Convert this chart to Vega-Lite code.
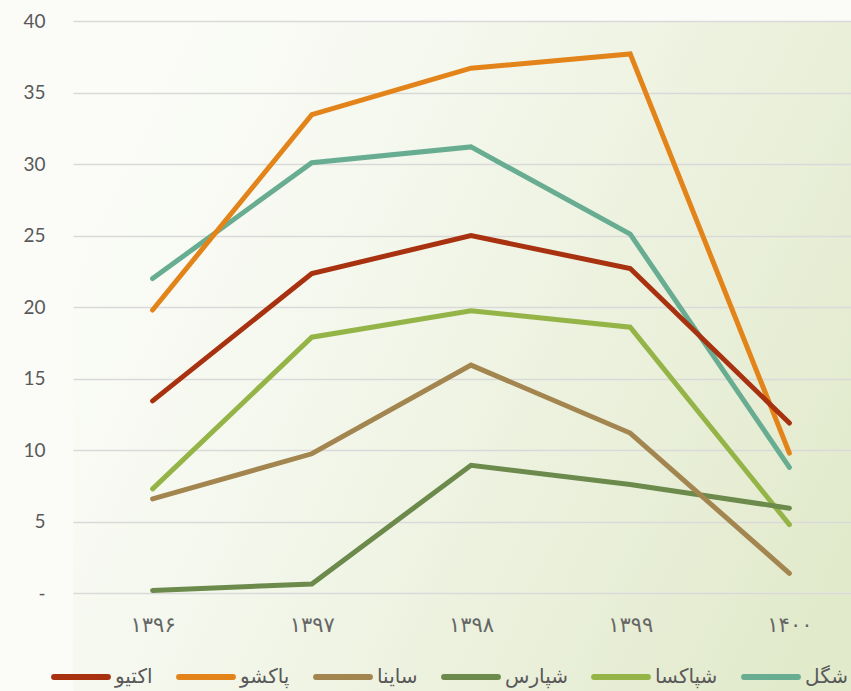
{
  "$schema": "https://vega.github.io/schema/vega-lite/v6.json",
  "autosize": "none",
  "padding": {"left": 73, "top": 21, "right": 0, "bottom": 0},
  "width": 796,
  "height": 670,
  "background": "#FBFCF8",
  "config": {
    "view": {
      "stroke": null,
      "fill": {
        "gradient": "linear",
        "x1": 0, "y1": 0.3, "x2": 1, "y2": 0.7,
        "stops": [
          {"offset": 0, "color": "#FBFCF8"},
          {"offset": 0.3, "color": "#F5F8EE"},
          {"offset": 1, "color": "#E2EACC"}
        ]
      }
    }
  },
  "data": {
    "values": [
      {"s": "شگل", "year": "۱۳۹۶", "v": 22.0},
      {"s": "شگل", "year": "۱۳۹۷", "v": 30.1},
      {"s": "شگل", "year": "۱۳۹۸", "v": 31.2},
      {"s": "شگل", "year": "۱۳۹۹", "v": 25.1},
      {"s": "شگل", "year": "۱۴۰۰", "v": 8.8},
      {"s": "شپاکسا", "year": "۱۳۹۶", "v": 7.3},
      {"s": "شپاکسا", "year": "۱۳۹۷", "v": 17.9},
      {"s": "شپاکسا", "year": "۱۳۹۸", "v": 19.75},
      {"s": "شپاکسا", "year": "۱۳۹۹", "v": 18.6},
      {"s": "شپاکسا", "year": "۱۴۰۰", "v": 4.8},
      {"s": "شپارس", "year": "۱۳۹۶", "v": 0.2},
      {"s": "شپارس", "year": "۱۳۹۷", "v": 0.65},
      {"s": "شپارس", "year": "۱۳۹۸", "v": 8.95},
      {"s": "شپارس", "year": "۱۳۹۹", "v": 7.6},
      {"s": "شپارس", "year": "۱۴۰۰", "v": 5.95},
      {"s": "ساینا", "year": "۱۳۹۶", "v": 6.6},
      {"s": "ساینا", "year": "۱۳۹۷", "v": 9.75},
      {"s": "ساینا", "year": "۱۳۹۸", "v": 15.95},
      {"s": "ساینا", "year": "۱۳۹۹", "v": 11.2},
      {"s": "ساینا", "year": "۱۴۰۰", "v": 1.4},
      {"s": "پاکشو", "year": "۱۳۹۶", "v": 19.8},
      {"s": "پاکشو", "year": "۱۳۹۷", "v": 33.45},
      {"s": "پاکشو", "year": "۱۳۹۸", "v": 36.7},
      {"s": "پاکشو", "year": "۱۳۹۹", "v": 37.7},
      {"s": "پاکشو", "year": "۱۴۰۰", "v": 9.8},
      {"s": "اکتیو", "year": "۱۳۹۶", "v": 13.45},
      {"s": "اکتیو", "year": "۱۳۹۷", "v": 22.35},
      {"s": "اکتیو", "year": "۱۳۹۸", "v": 25.0},
      {"s": "اکتیو", "year": "۱۳۹۹", "v": 22.7},
      {"s": "اکتیو", "year": "۱۴۰۰", "v": 11.9}
    ]
  },
  "mark": {"type": "line", "strokeWidth": 5, "strokeCap": "round", "strokeJoin": "miter"},
  "encoding": {
    "x": {
      "field": "year",
      "type": "ordinal",
      "sort": ["۱۳۹۶", "۱۳۹۷", "۱۳۹۸", "۱۳۹۹", "۱۴۰۰"],
      "scale": {"type": "point", "padding": 0.5},
      "axis": {
        "title": null,
        "domain": false,
        "ticks": false,
        "grid": false,
        "labelAngle": 0,
        "offset": -77,
        "labelPadding": 0,
        "labelFont": "DejaVu Sans",
        "labelFontSize": 21,
        "labelFontWeight": "normal",
        "labelColor": "#666666"
      }
    },
    "y": {
      "field": "v",
      "type": "quantitative",
      "scale": {"domain": [-6.83, 40], "nice": false, "zero": false},
      "axis": {
        "title": null,
        "values": [0, 5, 10, 15, 20, 25, 30, 35, 40],
        "domain": false,
        "ticks": false,
        "labelPadding": 28,
        "labelFont": "Lato",
        "labelFontSize": 19,
        "labelColor": "#595959",
        "labelExpr": "datum.value == 0 ? '-' : datum.label",
        "gridColor": "#D9D9D9",
        "gridWidth": 1.5
      }
    },
    "color": {
      "field": "s",
      "type": "nominal",
      "scale": {
        "domain": ["اکتیو", "پاکشو", "ساینا", "شپارس", "شپاکسا", "شگل"],
        "range": ["#A8320F", "#E3841A", "#A3854F", "#6C8A4C", "#94B447", "#68AD92"]
      },
      "legend": {
        "title": null,
        "orient": "none",
        "direction": "horizontal",
        "legendX": -22,
        "legendY": 626,
        "symbolType": "stroke",
        "symbolSize": 2900,
        "symbolStrokeWidth": 6,
        "labelFont": "DejaVu Sans",
        "labelFontSize": 20,
        "labelBaseline": "middle",
        "labelColor": "#595959",
        "labelOffset": 4,
        "columnPadding": 14,
        "encode": {"symbols": {"update": {"strokeCap": {"value": "round"}}}}
      }
    },
    "order": {"field": "s"}
  }
}
